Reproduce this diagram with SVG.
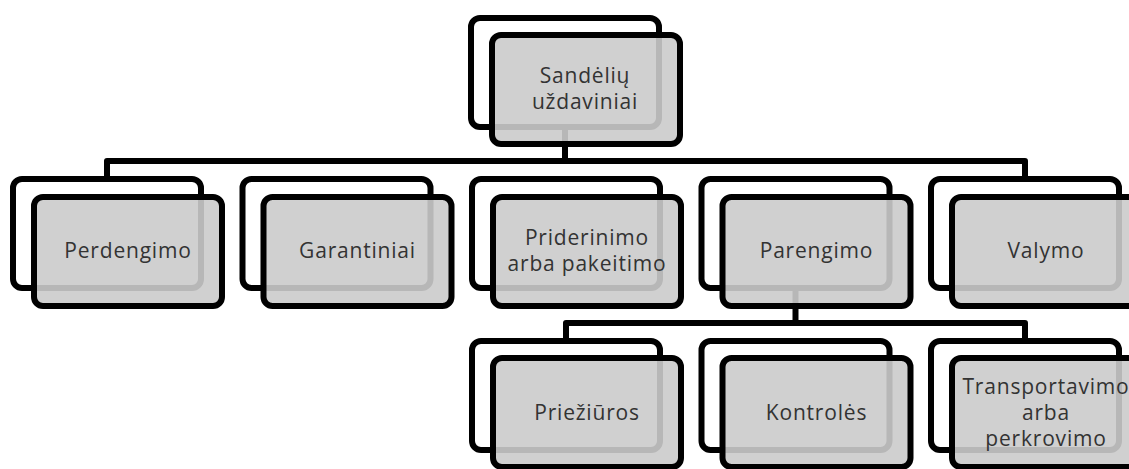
<svg xmlns="http://www.w3.org/2000/svg" width="1129" height="469" viewBox="0 0 1129 469">
  <style>
    .conn { fill: none; stroke: #000; stroke-width: 6; stroke-linejoin: round; }
    .back { fill: #fff; stroke: #000; stroke-width: 6; }
    .front { fill: rgb(203,203,203); fill-opacity: 0.9; stroke: #000; stroke-width: 6; }
    .lbl { font-family: "Open Sans", "Noto Sans", "DejaVu Sans", sans-serif; font-size: 21px; letter-spacing: 0.8px; fill: #333; text-anchor: middle; }
  </style>
  <rect width="1129" height="469" fill="#fff"/>
  <g id="connectors">
    <path class="conn" d="M565,128 V161"/>
    <path class="conn" d="M107,178 V161 H1025 V178"/>
    <path class="conn" d="M795.5,290 V323"/>
    <path class="conn" d="M566,340 V323 H1025 V340"/>
  </g>
  <g id="node-root">
    <rect class="back" x="471" y="18" width="188" height="109" rx="9"/>
    <rect class="front" x="492" y="35" width="188" height="109" rx="9"/>
    <text class="lbl" x="585" y="83">Sandėlių</text>
    <text class="lbl" x="585" y="109">uždaviniai</text>
  </g>
  <g id="node-perdengimo">
    <rect class="back" x="13" y="179" width="188" height="109" rx="9"/>
    <rect class="front" x="34" y="197" width="188" height="109" rx="9"/>
    <text class="lbl" x="128" y="258">Perdengimo</text>
  </g>
  <g id="node-garantiniai">
    <rect class="back" x="242.5" y="179" width="188" height="109" rx="9"/>
    <rect class="front" x="263.5" y="197" width="188" height="109" rx="9"/>
    <text class="lbl" x="357.5" y="258">Garantiniai</text>
  </g>
  <g id="node-priderinimo">
    <rect class="back" x="472" y="179" width="188" height="109" rx="9"/>
    <rect class="front" x="493" y="197" width="188" height="109" rx="9"/>
    <text class="lbl" x="587" y="245">Priderinimo</text>
    <text class="lbl" x="587" y="271">arba pakeitimo</text>
  </g>
  <g id="node-parengimo">
    <rect class="back" x="701.5" y="179" width="188" height="109" rx="9"/>
    <rect class="front" x="722.5" y="197" width="188" height="109" rx="9"/>
    <text class="lbl" x="816.5" y="258">Parengimo</text>
  </g>
  <g id="node-valymo">
    <rect class="back" x="931" y="179" width="188" height="109" rx="9"/>
    <rect class="front" x="952" y="197" width="188" height="109" rx="9"/>
    <text class="lbl" x="1046" y="258">Valymo</text>
  </g>
  <g id="node-prieziuros">
    <rect class="back" x="472" y="341" width="188" height="109" rx="9"/>
    <rect class="front" x="493" y="358" width="188" height="109" rx="9"/>
    <text class="lbl" x="587" y="420">Priežiūros</text>
  </g>
  <g id="node-kontroles">
    <rect class="back" x="701.5" y="341" width="188" height="109" rx="9"/>
    <rect class="front" x="722.5" y="358" width="188" height="109" rx="9"/>
    <text class="lbl" x="816.5" y="420">Kontrolės</text>
  </g>
  <g id="node-transportavimo">
    <rect class="back" x="931" y="341" width="188" height="109" rx="9"/>
    <rect class="front" x="952" y="358" width="188" height="109" rx="9"/>
    <text class="lbl" x="1046" y="394">Transportavimo</text>
    <text class="lbl" x="1046" y="420">arba</text>
    <text class="lbl" x="1046" y="446">perkrovimo</text>
  </g>
</svg>
